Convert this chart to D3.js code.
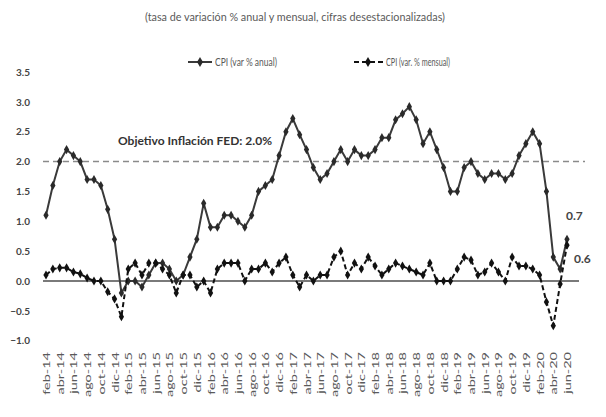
<!DOCTYPE html>
<html><head><meta charset="utf-8">
<script src="https://cdn.jsdelivr.net/npm/d3@7/dist/d3.min.js"></script>
<style>body{margin:0;background:#fff}svg{display:block}</style>
</head><body>
<svg id="c" width="606" height="417"></svg>
<script>
const months = [
 "feb-14","mar-14","abr-14","may-14","jun-14","jul-14","ago-14","sep-14","oct-14","nov-14","dic-14",
 "ene-15","feb-15","mar-15","abr-15","may-15","jun-15","jul-15","ago-15","sep-15","oct-15","nov-15","dic-15",
 "ene-16","feb-16","mar-16","abr-16","may-16","jun-16","jul-16","ago-16","sep-16","oct-16","nov-16","dic-16",
 "ene-17","feb-17","mar-17","abr-17","may-17","jun-17","jul-17","ago-17","sep-17","oct-17","nov-17","dic-17",
 "ene-18","feb-18","mar-18","abr-18","may-18","jun-18","jul-18","ago-18","sep-18","oct-18","nov-18","dic-18",
 "ene-19","feb-19","mar-19","abr-19","may-19","jun-19","jul-19","ago-19","sep-19","oct-19","nov-19","dic-19",
 "ene-20","feb-20","mar-20","abr-20","may-20","jun-20"
];
const annual = [
 1.1, 1.6, 2.0, 2.2, 2.1, 2.0, 1.7, 1.7, 1.6, 1.2, 0.7,
 -0.2, 0.0, 0.0, -0.1, 0.1, 0.3, 0.3, 0.2, 0.0, 0.1, 0.4, 0.7,
 1.3, 0.9, 0.9, 1.1, 1.1, 1.0, 0.9, 1.1, 1.5, 1.6, 1.7, 2.1,
 2.5, 2.72, 2.45, 2.2, 1.9, 1.7, 1.8, 2.0, 2.2, 2.0, 2.2, 2.1,
 2.1, 2.2, 2.4, 2.4, 2.7, 2.8, 2.92, 2.7, 2.3, 2.5, 2.2, 1.9,
 1.5, 1.5, 1.9, 2.0, 1.8, 1.7, 1.8, 1.8, 1.7, 1.8, 2.1, 2.3,
 2.5, 2.3, 1.5, 0.4, 0.2, 0.7
];
const monthly = [
 0.1, 0.2, 0.22, 0.22, 0.15, 0.12, 0.05, 0.0, 0.0, -0.18, -0.3,
 -0.6, 0.2, 0.3, 0.1, 0.3, 0.3, 0.2, 0.1, -0.2, 0.1, 0.1, -0.1,
 0.0, -0.2, 0.2, 0.3, 0.3, 0.3, 0.0, 0.2, 0.2, 0.3, 0.15, 0.3,
 0.4, 0.1, -0.1, 0.1, 0.0, 0.1, 0.1, 0.4, 0.5, 0.1, 0.3, 0.2,
 0.4, 0.25, 0.1, 0.2, 0.3, 0.25, 0.2, 0.15, 0.1, 0.3, 0.0, 0.0,
 0.0, 0.2, 0.4, 0.35, 0.1, 0.15, 0.3, 0.15, 0.0, 0.4, 0.25, 0.25,
 0.2, 0.1, -0.35, -0.75, -0.05, 0.6
];
const yTicks = [3.5, 3.0, 2.5, 2.0, 1.5, 1.0, 0.5, 0.0, -0.5, -1.0];
const xTickLabels = months.filter((d, i) => i % 2 === 0);
const targetValue = 2.0;
const subtitle = "(tasa de variación % anual y mensual, cifras desestacionalizadas)";
const legendLabels = ["CPI (var % anual)", "CPI (var. % mensual)"];
const targetLabel = "Objetivo Inflación FED: 2.0%";
const endLabels = ["0.7", "0.6"];

const FONT = "Lato, 'DejaVu Sans', sans-serif";
const svg = d3.select("#c").style("font-family", FONT);

const x = d3.scalePoint().domain(months).range([46, 567]);
const y = d3.scaleLinear().domain([-1, 3.5]).range([340.7, 72]);

// subtitle
svg.append("text").attr("x", 295).attr("y", 21).attr("text-anchor", "middle")
  .attr("font-size", 11.5).attr("fill", "#5a5a5a")
  .attr("textLength", 300).attr("lengthAdjust", "spacingAndGlyphs").text(subtitle);

// y axis
const yAxis = d3.axisLeft(y).tickValues(yTicks).tickFormat(d3.format(".1f")).tickSize(0).tickPadding(0);
const gy = svg.append("g").attr("transform", "translate(30,0)").call(yAxis);
gy.select(".domain").remove();
gy.selectAll("text").attr("font-size", 10).attr("font-weight", "bold").attr("fill", "#444")
  .attr("font-family", FONT);

// x axis
const xAxis = d3.axisBottom(x).tickValues(xTickLabels).tickSize(0);
const gx = svg.append("g").attr("transform", "translate(0,352)").call(xAxis);
gx.select(".domain").remove();
gx.selectAll("text").attr("x", 0).attr("y", 0).attr("dy", "0.35em")
  .attr("text-anchor", "end").attr("transform", "rotate(-90) scale(1.45,1)")
  .attr("font-size", 10).attr("fill", "#5a5a5a").attr("font-family", FONT);

// target dashed line
svg.append("line").attr("x1", 43).attr("x2", 585).attr("y1", y(targetValue)).attr("y2", y(targetValue))
  .attr("stroke", "#8a8a8a").attr("stroke-width", 1.5).attr("stroke-dasharray", "6,4");
// zero line
svg.append("line").attr("x1", 43).attr("x2", 579).attr("y1", y(0)).attr("y2", y(0))
  .attr("stroke", "#7a7a7a").attr("stroke-width", 2);

// target label
svg.append("text").attr("x", 118).attr("y", 145).attr("font-size", 11).attr("font-weight", "bold")
  .attr("fill", "#333").attr("textLength", 154).attr("lengthAdjust", "spacingAndGlyphs").text(targetLabel);

const line = d3.line().x((d, i) => x(months[i])).y(d => y(d));
const diamond = d3.symbol().type(d3.symbolDiamond).size(24);

// annual series
svg.append("path").datum(annual).attr("d", line).attr("fill", "none")
  .attr("stroke", "#3a3a3a").attr("stroke-width", 2);
svg.append("g").selectAll("path").data(annual).join("path")
  .attr("d", diamond).attr("transform", (d, i) => `translate(${x(months[i])},${y(d)})`).attr("fill", "#2a2a2a");

// monthly series
svg.append("path").datum(monthly).attr("d", line).attr("fill", "none")
  .attr("stroke", "#111").attr("stroke-width", 2).attr("stroke-dasharray", "5,3");
svg.append("g").selectAll("path").data(monthly).join("path")
  .attr("d", diamond).attr("transform", (d, i) => `translate(${x(months[i])},${y(d)})`).attr("fill", "#111");

// end labels
svg.append("text").attr("x", 566).attr("y", 220).attr("font-size", 12).attr("font-weight", "bold")
  .attr("fill", "#444").text(endLabels[0]);
svg.append("text").attr("x", 574).attr("y", 263).attr("font-size", 12).attr("font-weight", "bold")
  .attr("fill", "#444").text(endLabels[1]);

// legend
const ly = 62;
const lg = svg.append("g");
lg.append("line").attr("x1", 188).attr("x2", 212).attr("y1", ly).attr("y2", ly)
  .attr("stroke", "#3a3a3a").attr("stroke-width", 2);
lg.append("path").attr("d", d3.symbol().type(d3.symbolDiamond).size(30)).attr("transform", `translate(200,${ly})`).attr("fill", "#2a2a2a");
lg.append("text").attr("x", 215).attr("y", ly + 4).attr("font-size", 12).attr("fill", "#5a5a5a")
  .attr("textLength", 62).attr("lengthAdjust", "spacingAndGlyphs").text(legendLabels[0]);
lg.append("line").attr("x1", 354).attr("x2", 383).attr("y1", ly).attr("y2", ly)
  .attr("stroke", "#111").attr("stroke-width", 2).attr("stroke-dasharray", "5,3");
lg.append("path").attr("d", d3.symbol().type(d3.symbolDiamond).size(30)).attr("transform", `translate(368,${ly})`).attr("fill", "#111");
lg.append("text").attr("x", 386).attr("y", ly + 4).attr("font-size", 12).attr("fill", "#5a5a5a")
  .attr("textLength", 64).attr("lengthAdjust", "spacingAndGlyphs").text(legendLabels[1]);
</script>
</body></html>
